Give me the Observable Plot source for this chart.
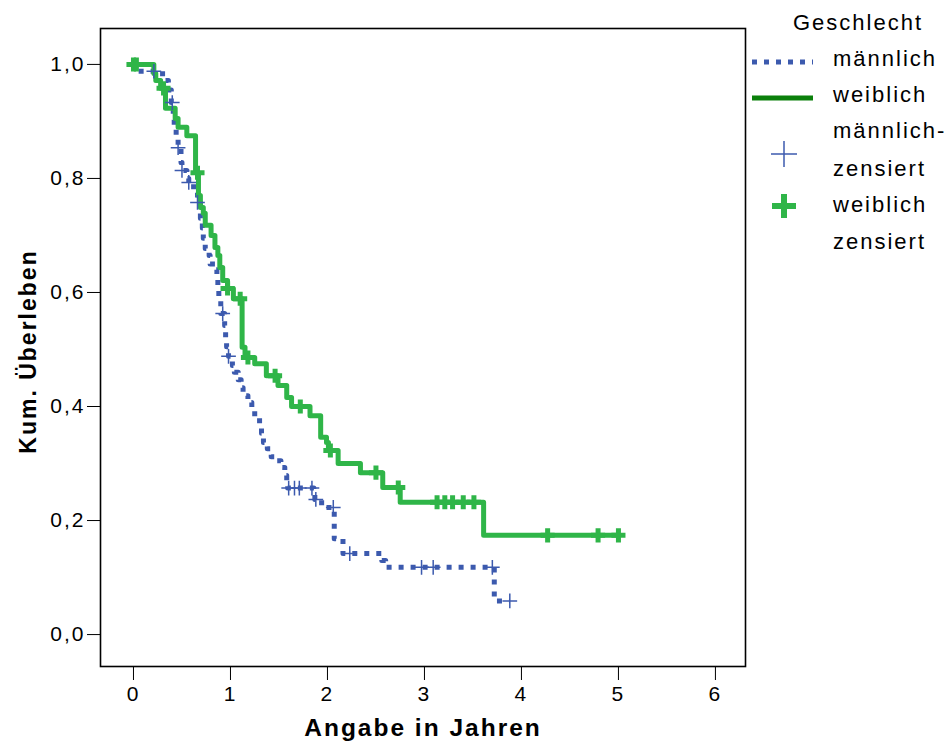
<!DOCTYPE html>
<html>
<head>
<meta charset="utf-8">
<script src="https://cdn.jsdelivr.net/npm/d3@7"></script>
<script src="https://cdn.jsdelivr.net/npm/@observablehq/plot@0.6"></script>
<style>
  body { margin: 0; background: #fff; }
  #wrap { position: relative; width: 950px; height: 744px; }
  #wrap svg text { letter-spacing: 2px; }
  #legend { position: absolute; left: 0; top: 0; }
</style>
</head>
<body>
<div id="wrap"></div>
<script>
// ---- data ----
const xTicks = [0, 1, 2, 3, 4, 5, 6];
const yTicks = [0, 0.2, 0.4, 0.6, 0.8, 1.0];

// männlich: step times and survival after each step
const maleTime = [0, 0.05, 0.30, 0.36, 0.39, 0.41, 0.42, 0.44, 0.46, 0.49, 0.50, 0.55, 0.57, 0.62, 0.66, 0.69, 0.71, 0.72, 0.74, 0.78, 0.79, 0.84, 0.86, 0.87, 0.88, 0.90, 0.94, 0.95, 0.96, 0.98, 1.02, 1.04, 1.08, 1.11, 1.13, 1.18, 1.22, 1.25, 1.30, 1.32, 1.34, 1.38, 1.42, 1.48, 1.52, 1.56, 1.58, 1.59, 1.86, 1.87, 1.94, 2.07, 2.16, 2.56, 2.60, 3.72, 3.88];
const maleSurv = [1.0, 0.988, 0.972, 0.955, 0.933, 0.912, 0.893, 0.875, 0.854, 0.828, 0.814, 0.800, 0.793, 0.775, 0.758, 0.730, 0.713, 0.695, 0.677, 0.665, 0.650, 0.640, 0.625, 0.605, 0.586, 0.563, 0.542, 0.521, 0.505, 0.488, 0.472, 0.460, 0.447, 0.433, 0.419, 0.407, 0.395, 0.381, 0.370, 0.353, 0.337, 0.326, 0.312, 0.305, 0.293, 0.279, 0.265, 0.257, 0.247, 0.237, 0.223, 0.168, 0.142, 0.130, 0.118, 0.059, 0.059];
const maleCensor = [0.21, 0.40, 0.46, 0.50, 0.57, 0.66, 0.92, 0.98, 1.60, 1.66, 1.71, 1.84, 1.88, 2.06, 2.23, 2.97, 3.09, 3.70, 3.88];

// weiblich
const femaleTime = [0, 0.21, 0.23, 0.28, 0.33, 0.43, 0.46, 0.55, 0.64, 0.67, 0.69, 0.72, 0.74, 0.80, 0.84, 0.87, 0.89, 0.92, 0.97, 1.03, 1.12, 1.15, 1.25, 1.37, 1.49, 1.58, 1.63, 1.82, 1.93, 1.99, 2.01, 2.11, 2.34, 2.57, 2.75, 3.61, 5.00];
const femaleSurv = [1.0, 0.984, 0.972, 0.958, 0.923, 0.905, 0.890, 0.875, 0.810, 0.770, 0.749, 0.739, 0.718, 0.700, 0.679, 0.665, 0.644, 0.621, 0.607, 0.589, 0.504, 0.486, 0.475, 0.454, 0.437, 0.416, 0.400, 0.384, 0.346, 0.337, 0.323, 0.300, 0.284, 0.258, 0.232, 0.174, 0.174];
const femaleCensor = [0.0, 0.03, 0.31, 0.66, 0.97, 1.10, 1.18, 1.46, 1.72, 2.03, 2.50, 2.73, 3.13, 3.21, 3.29, 3.40, 3.51, 4.27, 4.79, 5.00];

const legendTitle = "Geschlecht";
const legendLabels = ["männlich", "weiblich", "männlich-", "zensiert", "weiblich", "zensiert"];

// ---- colours ----
const blue = "#3c5aae";
const green = "#2fb548";
const legendGreen = "#0b800b";

// ---- build tables ----
const maleLine = maleTime.map((t, i) => ({t, s: maleSurv[i]}));
const femaleLine = femaleTime.map((t, i) => ({t, s: femaleSurv[i]}));
function survAt(times, surv, t) {
  let s = surv[0];
  for (let i = 0; i < times.length; i++) if (times[i] <= t + 1e-9) s = surv[i];
  return s;
}
const maleCens = maleCensor.map(t => ({t, s: survAt(maleTime, maleSurv, t)}));
const femaleCens = femaleCensor.map(t => ({t, s: survAt(femaleTime, femaleSurv, t)}));

const chart = Plot.plot({
  width: 950,
  height: 744,
  marginLeft: 100,
  marginRight: 205,
  marginTop: 28,
  marginBottom: 78,
  style: {fontFamily: "'Liberation Sans', Arial, sans-serif", fontSize: "21px", color: "black", background: "white"},
  x: {domain: [-0.34, 6.31], ticks: xTicks, tickSize: 14, tickPadding: 6, label: null, tickFormat: d => String(d)},
  y: {domain: [-0.056, 1.063], ticks: yTicks, tickSize: 13, tickPadding: 2, label: null,
      tickFormat: d => d.toFixed(1).replace(".", ",")},
  marks: [
    Plot.frame({stroke: "black", strokeWidth: 1.6}),
    Plot.line(maleLine, {x: "t", y: "s", curve: "step-after", stroke: blue, strokeWidth: 5, strokeDasharray: "5,7", strokeLinecap: "butt"}),
    Plot.line(femaleLine, {x: "t", y: "s", curve: "step-after", stroke: green, strokeWidth: 5, strokeLinejoin: "round"}),
    Plot.dot(femaleCens, {x: "t", y: "s", symbol: "plus", r: 4.6, stroke: green, strokeWidth: 5}),
    Plot.dot(maleCens, {x: "t", y: "s", symbol: "plus", r: 4.8, stroke: blue, strokeWidth: 1.5}),
    Plot.text(["Angabe in Jahren"], {frameAnchor: "bottom", dy: 62, lineAnchor: "middle", textAnchor: "middle", fontWeight: "bold", fontSize: 24.5, fill: "black"}),
    Plot.text(["Kum. Überleben"], {frameAnchor: "left", dx: -72, dy: 4, rotate: -90, lineAnchor: "middle", textAnchor: "middle", fontWeight: "bold", fontSize: 23, fill: "black"})
  ]
});
const wrap = document.getElementById("wrap");
wrap.appendChild(chart);

// ---- legend (outside the frame, right side) ----
const ns = "http://www.w3.org/2000/svg";
const leg = document.createElementNS(ns, "svg");
leg.setAttribute("id", "legend");
leg.setAttribute("width", 950);
leg.setAttribute("height", 270);
leg.style.fontFamily = "'Liberation Sans', Arial, sans-serif";
leg.style.fontSize = "22px";
function txt(x, y, s) {
  const e = document.createElementNS(ns, "text");
  e.setAttribute("x", x); e.setAttribute("y", y); e.setAttribute("fill", "black");
  e.textContent = s; leg.appendChild(e);
}
function ln(x1, y1, x2, y2, stroke, w, dash) {
  const e = document.createElementNS(ns, "line");
  e.setAttribute("x1", x1); e.setAttribute("y1", y1); e.setAttribute("x2", x2); e.setAttribute("y2", y2);
  e.setAttribute("stroke", stroke); e.setAttribute("stroke-width", w);
  if (dash) e.setAttribute("stroke-dasharray", dash);
  leg.appendChild(e);
}
txt(793, 30, legendTitle);
const baselines = [66, 102, 138, 176, 212, 249];
legendLabels.forEach((s, i) => txt(833, baselines[i], s));
ln(752, 62, 813, 62, blue, 5, "5,7");
ln(752, 98, 813, 98, legendGreen, 5);
ln(771, 154, 797, 154, blue, 1.5); ln(784, 141, 784, 167, blue, 1.5);
ln(772, 206, 796, 206, green, 6); ln(784, 194, 784, 218, green, 6);
wrap.appendChild(leg);
</script>
</body>
</html>
